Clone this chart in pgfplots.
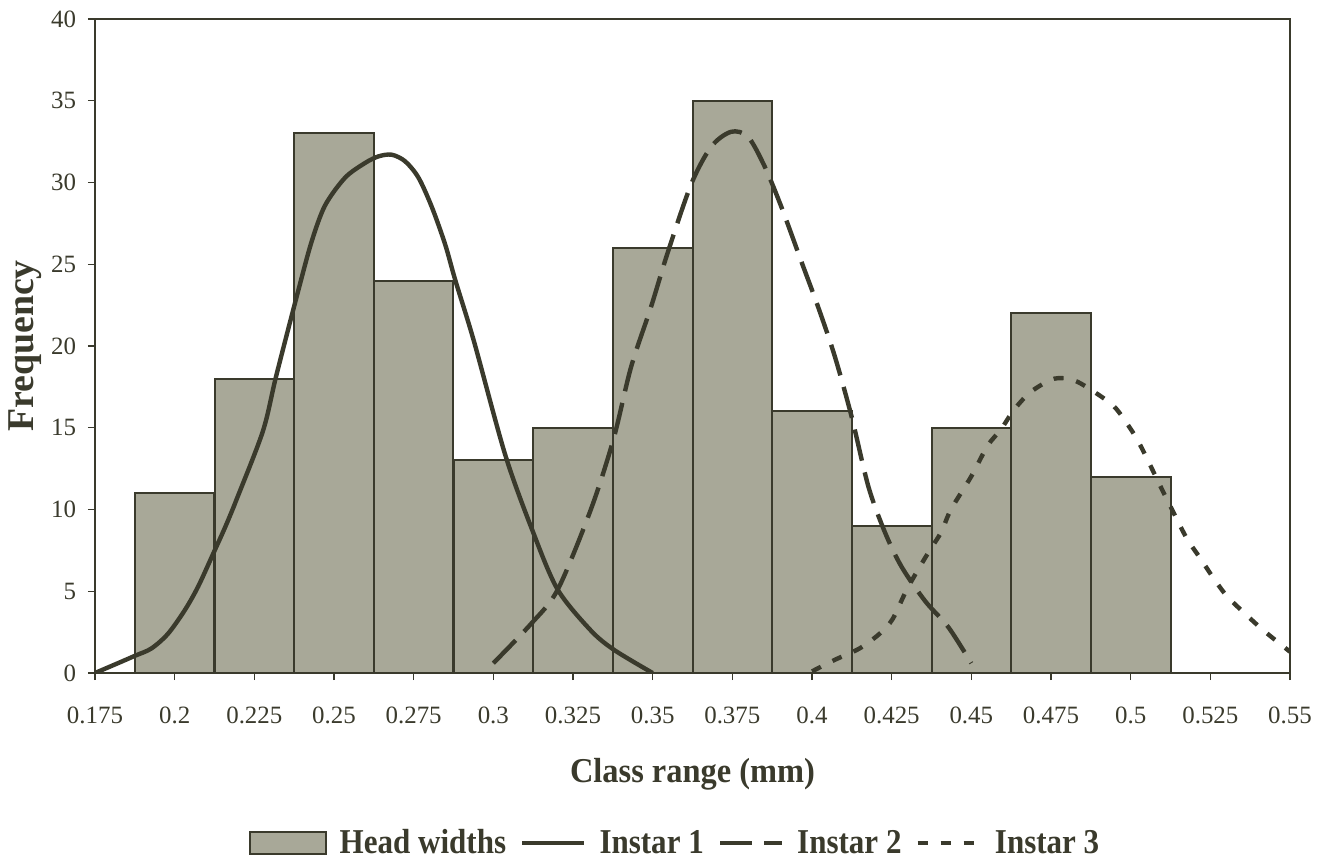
\documentclass[border=0pt]{standalone}
\usepackage{pgfplots}
\pgfplotsset{compat=1.18}
\usepackage{fontspec}
\setmainfont{Liberation Serif}
\newfontface\legendbf[FakeStretch=0.89]{Liberation Serif Bold}
\newfontface\labelbf[FakeStretch=0.93]{Liberation Serif Bold}
\definecolor{inkdark}{RGB}{58,58,44}
\definecolor{barfill}{RGB}{168,168,152}

\pgfplotsset{
    barlegend/.style={legend image code/.code={\draw[##1] (0bp,-5.5bp) rectangle (38bp,5.5bp);}},
    linelegend/.style={legend image code/.code={\draw[##1] (0bp,0bp) -- (31bp,0bp);}},
}

\begin{document}
\begin{tikzpicture}
\useasboundingbox (-47.5bp,-93.5bp) rectangle (616bp,336.5bp);
\begin{axis}[
    at={(0,0)}, anchor=south west,
    scale only axis, width=597.5bp, height=327bp,
    xmin=0.175, xmax=0.55, ymin=0, ymax=40,
    xtick={0.175,0.2,0.225,0.25,0.275,0.3,0.325,0.35,0.375,0.4,0.425,0.45,0.475,0.5,0.525,0.55},
    ytick={0,5,10,15,20,25,30,35,40},
    xtick pos=bottom, ytick pos=left,
    tick align=outside, major tick length=3.5bp,
    tick style={inkdark, line width=0.6bp},
    axis line style={inkdark, line width=1.1bp},
    /pgf/number format/assume math mode=true,
    xticklabel style={/pgf/number format/fixed, /pgf/number format/precision=3, yshift=-10bp},
    yticklabel style={xshift=-2.5bp},
    ticklabel style={font=\fontsize{12.5}{15}\selectfont, text=inkdark},
    xlabel={\labelbf Class range (mm)},
    ylabel={\bfseries Frequency},
    xlabel style={font=\fontsize{17.5}{20}\selectfont, text=inkdark,
        at={(axis description cs:0.5,0)}, anchor=base, yshift=-54.5bp},
    ylabel style={font=\fontsize{19}{22}\selectfont, text=inkdark,
        at={(axis description cs:-0.0586,0.5)}, anchor=center},
    legend columns=4,
    legend style={at={(0.4845,-0.26)}, anchor=center, draw=none, fill=none,
        font=\legendbf\fontsize{17.5}{20}\selectfont, text=inkdark,
        /tikz/every even column/.style={column sep=7bp},
        /tikz/every odd column/.style={column sep=6.5bp},
        nodes={inner xsep=0bp}},
]
\addplot[ybar, bar width=39.83bp, fill=barfill, draw=inkdark, line width=1bp, barlegend]
coordinates {
(0.2,11) (0.225,18) (0.25,33) (0.275,24) (0.3,13) (0.325,15) (0.35,26)
(0.375,35) (0.4,16) (0.425,9) (0.45,15) (0.475,22) (0.5,12)
};
\addlegendentry{Head widths}

\addplot[inkdark, line width=2.2bp, smooth, tension=0.5, linelegend]
coordinates {
(0.175,0) (0.1822,0.6) (0.1875,1.05) (0.1927,1.5) (0.1979,2.4) (0.2032,3.85)
(0.2074,5.3) (0.2121,7.3) (0.2158,8.9) (0.2194,10.6) (0.2277,14.8) (0.2319,18.2)
(0.2388,23.4) (0.2430,26.4) (0.2472,28.6) (0.2535,30.3) (0.2598,31.2)
(0.2640,31.6) (0.2681,31.7) (0.2723,31.3) (0.2765,30.3) (0.2807,28.5)
(0.2849,26.2) (0.2881,24.0) (0.2939,20.3) (0.3038,13.3) (0.3125,8.6)
(0.3202,5.1) (0.3306,2.6) (0.338,1.4) (0.35,0)
};
\addlegendentry{Instar 1}

\addplot[inkdark, line width=2.2bp, smooth, tension=0.5, dash pattern=on 16bp off 6bp, linelegend]
coordinates {
(0.3,0.6) (0.3118,3.0) (0.3202,5.1) (0.3306,10.0) (0.3377,14.3) (0.3432,18.7)
(0.3495,22.4) (0.3547,25.7) (0.3621,29.9) (0.3684,32.2) (0.3746,33.1)
(0.3799,32.8) (0.3851,31.0) (0.3904,28.5) (0.3966,25.2) (0.4019,22.4)
(0.4071,19.4) (0.4124,15.7) (0.4177,11.4) (0.4229,8.6) (0.4281,6.5)
(0.4355,4.4) (0.4428,2.8) (0.45,0.6)
};
\addlegendentry{Instar 2}

\addplot[inkdark, line width=2.2bp, smooth, tension=0.5, dash pattern=on 5bp off 6.5bp, linelegend]
coordinates {
(0.4,0.1) (0.4071,0.8) (0.4149,1.5) (0.4212,2.4) (0.4253,3.3) (0.43,5.2)
(0.4363,7.3) (0.4405,8.6) (0.4436,10.0) (0.4499,12.0) (0.4551,13.9)
(0.4593,14.9) (0.4634,16.1) (0.4687,17.2) (0.476,18.0) (0.4822,17.9)
(0.4885,17.2) (0.4948,16.3) (0.4994,15.1) (0.5031,13.9) (0.5104,11.0)
(0.514,9.6) (0.5177,8.2) (0.5219,7.0) (0.526,5.8) (0.5302,4.7)
(0.5355,3.7) (0.5417,2.6) (0.55,1.3)
};
\addlegendentry{Instar 3}
\end{axis}
\end{tikzpicture}
\end{document}
